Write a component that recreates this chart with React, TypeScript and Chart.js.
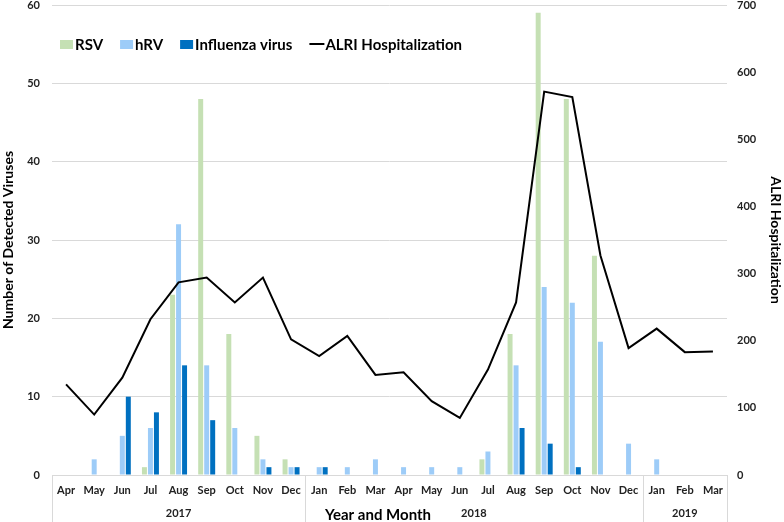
import React, { useEffect, useRef } from 'react';
import { Chart, registerables } from 'chart.js';
Chart.register(...registerables);

const months = ['Apr','May','Jun','Jul','Aug','Sep','Oct','Nov','Dec','Jan','Feb','Mar','Apr','May','Jun','Jul','Aug','Sep','Oct','Nov','Dec','Jan','Feb','Mar'];
const yearLabels = ['2017', '2018', '2019'];
const yearSpans = [9, 12, 3];
const rsv = [0,0,0,1,23,48,18,5,2,0,0,0,0,0,0,2,18,59,48,28,0,0,0,0];
const hrv = [0,2,5,6,32,14,6,2,1,1,1,2,1,1,1,3,14,24,22,17,4,2,0,0];
const flu = [0,0,10,8,14,7,0,1,1,1,0,0,0,0,0,0,6,4,1,0,0,0,0,0];
const alri = [135,90,145,232,287,294,257,294,202,177,207,149,153,110,85,157,257,571,563,327,189,218,183,184];
const leftTicks = [0, 60, 10];
const rightTicks = [0, 700, 100];

const FONT = 'Lato, "Open Sans", sans-serif';
const C_RSV = '#C5E0B4';
const C_HRV = '#9DCCF8';
const C_FLU = '#0070C0';
const C_GRID = '#D9D9D9';

const decorPlugin = {
  id: 'decor',
  afterDraw(chart: any) {
    const ctx = chart.ctx;
    const area = chart.chartArea;
    const H = chart.height;
    const catW = (area.right - area.left) / months.length;
    ctx.save();
    ctx.strokeStyle = C_GRID;
    ctx.lineWidth = 1;
    let idx = 0;
    const bounds = [0];
    yearSpans.forEach((s) => { idx += s; bounds.push(idx); });
    bounds.forEach((b) => {
      const x = Math.round(area.left + b * catW) + 0.5;
      ctx.beginPath();
      ctx.moveTo(x, area.bottom);
      ctx.lineTo(x, H);
      ctx.stroke();
    });
    ctx.fillStyle = '#222';
    ctx.font = 'bold 11px ' + FONT;
    ctx.textAlign = 'center';
    ctx.textBaseline = 'middle';
    let start = 0;
    yearLabels.forEach((y, i) => {
      const cx = area.left + (start + yearSpans[i] / 2) * catW;
      ctx.fillText(y, cx, 513);
      start += yearSpans[i];
    });
    ctx.fillStyle = '#000';
    ctx.font = 'bold 15px ' + FONT;
    ctx.fillText('Year and Month', 378, 515);
    ctx.font = 'bold 15px ' + FONT;
    ctx.textAlign = 'left';
    let x = 60;
    const ly = 44;
    chart.data.datasets.forEach((ds: any) => {
      if (ds.type === 'line') {
        ctx.strokeStyle = '#000';
        ctx.lineWidth = 2;
        ctx.beginPath();
        ctx.moveTo(x, ly);
        ctx.lineTo(x + 15, ly);
        ctx.stroke();
        x += 16;
      } else {
        ctx.fillStyle = ds.backgroundColor;
        ctx.fillRect(x, ly - 4, 13, 9);
        x += 15;
      }
      ctx.fillStyle = '#000';
      ctx.fillText(ds.label, x, ly + 1);
      x += ctx.measureText(ds.label).width + 17;
    });
    ctx.restore();
  },
};

export default function App() {
  const ref = useRef<HTMLCanvasElement>(null);
  useEffect(() => {
    document.body.style.margin = '0';
    const tickFont = { family: FONT, size: 11, weight: 'bold' as const };
    const chart = new Chart(ref.current!, {
      data: {
        labels: months,
        datasets: [
          { type: 'bar', label: 'RSV', data: rsv, backgroundColor: C_RSV, yAxisID: 'y', order: 2 },
          { type: 'bar', label: 'hRV', data: hrv, backgroundColor: C_HRV, yAxisID: 'y', order: 2 },
          { type: 'bar', label: 'Influenza virus', data: flu, backgroundColor: C_FLU, yAxisID: 'y', order: 2 },
          { type: 'line', label: 'ALRI Hospitalization', data: alri, borderColor: '#000', borderWidth: 2, pointRadius: 0, tension: 0, yAxisID: 'y1', order: 1 },
        ] as any,
      },
      options: {
        animation: false,
        responsive: false,
        maintainAspectRatio: false,
        layout: { padding: 0 },
        datasets: { bar: { categoryPercentage: 0.64, barPercentage: 0.83 } } as any,
        plugins: { legend: { display: false }, tooltip: { enabled: false } },
        scales: {
          x: {
            grid: { display: false, drawTicks: false },
            border: { display: true, color: C_GRID },
            ticks: { font: tickFont, color: '#222', padding: 9, maxRotation: 0, autoSkip: false },
            afterFit: (s: any) => { s.height = 47; },
          },
          y: {
            position: 'left',
            min: leftTicks[0], max: leftTicks[1],
            ticks: { stepSize: leftTicks[2], font: tickFont, color: '#222', padding: 12 },
            grid: { color: C_GRID, drawTicks: false },
            border: { display: false },
            title: { display: true, text: 'Number of Detected Viruses', font: { family: FONT, size: 14, weight: 'bold' }, color: '#000', padding: { top: 0, bottom: 0 } },
            afterFit: (s: any) => { s.width = 52; s.paddingTop = 5; },
          },
          y1: {
            position: 'right',
            min: rightTicks[0], max: rightTicks[1],
            ticks: { stepSize: rightTicks[2], font: tickFont, color: '#222', padding: 10 },
            grid: { display: false, drawTicks: false },
            border: { display: false },
            title: { display: true, text: 'ALRI Hospitalization', font: { family: FONT, size: 14, weight: 'bold' }, color: '#000', padding: { top: 0, bottom: 0 } },
            afterFit: (s: any) => { s.width = 57; s.paddingTop = 5; },
          },
        },
      } as any,
      plugins: [decorPlugin],
    });
    return () => chart.destroy();
  }, []);
  return (
    <div style={{ width: 784, height: 522 }}>
      <canvas ref={ref} width={784} height={522} style={{ display: 'block' }} />
    </div>
  );
}
